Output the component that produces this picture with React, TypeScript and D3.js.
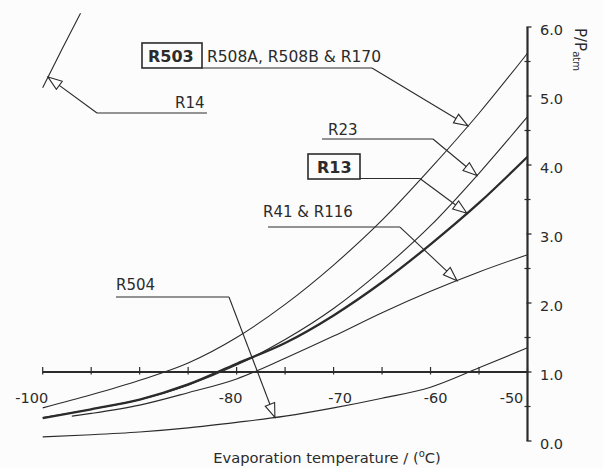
import React from 'react';
import * as d3 from 'd3';

// ---- data ----
const TEMPS = [-100, -95, -90, -85, -80, -75, -70, -65, -60, -55, -50];
const R503_VALUES = [0.48, 0.67, 0.88, 1.13, 1.5, 1.98, 2.55, 3.2, 3.95, 4.75, 5.62];
const R23_VALUES = [0.34, 0.46, 0.6, 0.81, 1.1, 1.47, 1.92, 2.48, 3.12, 3.88, 4.7];
const R13_VALUES = [0.33, 0.46, 0.6, 0.82, 1.12, 1.42, 1.82, 2.3, 2.85, 3.45, 4.12];
const R41_TEMPS = [-97, -95, -90, -85, -80, -75, -70, -65, -60, -55, -50];
const R41_VALUES = [0.36, 0.4, 0.52, 0.7, 0.9, 1.2, 1.52, 1.86, 2.17, 2.45, 2.7];
const R504_VALUES = [0.06, 0.09, 0.13, 0.19, 0.27, 0.36, 0.48, 0.62, 0.78, 1.06, 1.35];
const R14_TEMPS = [-100, -98, -96.1];
const R14_VALUES = [5.12, 5.68, 6.2];

const X_TICKS = [-100, -95, -90, -85, -80, -75, -70, -65, -60, -55, -50];
const X_TICK_LABELS = [-100, -80, -70, -60, -50];
const Y_MAJOR = [0, 1, 2, 3, 4, 5, 6];
const Y_MINOR = [0.5, 1.5, 2.5, 3.5, 4.5, 5.5];

type Series = { key: string; temps: number[]; values: number[]; bold?: boolean };
const SERIES: Series[] = [
  { key: 'R503', temps: TEMPS, values: R503_VALUES },
  { key: 'R23', temps: TEMPS, values: R23_VALUES },
  { key: 'R13', temps: TEMPS, values: R13_VALUES, bold: true },
  { key: 'R41', temps: R41_TEMPS, values: R41_VALUES },
  { key: 'R504', temps: TEMPS, values: R504_VALUES },
  { key: 'R14', temps: R14_TEMPS, values: R14_VALUES },
];

// annotation anchors in data units (temperature, pressure ratio)
const ANNOTATIONS = [
  { series: 'R503', boxed: 'R503', text: 'R508A, R508B & R170', textT: -89.14, baseV: 5.493, lineV: 5.406, lineFromT: -83.57, elbowT: -66.04, tipT: -56.14 },
  { series: 'R23', boxed: '', text: 'R23', textT: -70.58, baseV: 4.435, lineV: 4.377, lineFromT: -71.2, elbowT: -59.75, tipT: -55.21 },
  { series: 'R13', boxed: 'R13', text: '', textT: -71.71, baseV: 3.884, lineV: 3.804, lineFromT: -67.28, elbowT: -61.1, tipT: -56.25 },
  { series: 'R41', boxed: '', text: 'R41 & R116', textT: -77.28, baseV: 3.246, lineV: 3.101, lineFromT: -76.76, elbowT: -63.15, tipT: -57.27 },
  { series: 'R504', boxed: '', text: 'R504', textT: -92.44, baseV: 2.188, lineV: 2.087, lineFromT: -92.44, elbowT: -80.79, tipT: -76.05 },
  { series: 'R14', boxed: '', text: 'R14', textT: -86.36, baseV: 4.826, lineV: 4.754, lineFromT: -83.06, elbowT: -94.4, tipT: -99.45 },
];

const X_LABEL_DX: Record<number, number> = { [-100]: -11, [-80]: -6, [-70]: 6.5, [-60]: 5, [-50]: -16 };

const W = 603;
const H = 468;
const INK = '#2b2b2b';
const FONT = '"DejaVu Sans", Verdana, sans-serif';

export default function App() {
  const x = d3.scaleLinear().domain([-100, -50]).range([42.7, 527.5]);
  const y = d3.scaleLinear().domain([0, 6]).range([441, 27]);

  const line = d3
    .line<[number, number]>()
    .x((d) => x(d[0]))
    .y((d) => y(d[1]))
    .curve(d3.curveMonotoneX);

  const seriesByKey: Record<string, Series> = {};
  SERIES.forEach((s) => (seriesByKey[s.key] = s));

  const arrowHead = (fx: number, fy: number, tx: number, ty: number) => {
    const dx = tx - fx;
    const dy = ty - fy;
    const len = Math.hypot(dx, dy);
    const ux = dx / len;
    const uy = dy / len;
    const L = 14;
    const Wd = 5;
    const bx = tx - L * ux;
    const by = ty - L * uy;
    const nx = -uy;
    const ny = ux;
    return `${tx},${ty} ${bx + Wd * nx},${by + Wd * ny} ${bx - Wd * nx},${by - Wd * ny}`;
  };

  const axisY = y(1);
  const axisX = x(-50);

  return (
    <svg
      width={W}
      height={H}
      style={{ position: 'absolute', left: 0, top: 0, background: '#fcfcfc' }}
      fontFamily={FONT}
    >
      <rect x={0} y={0} width={W} height={H} fill="#fcfcfc" />

      {/* curves */}
      {SERIES.map((s) => (
        <path
          key={s.key}
          d={line(s.temps.map((t, i) => [t, s.values[i]] as [number, number])) || ''}
          fill="none"
          stroke={INK}
          strokeWidth={s.bold ? 2.3 : 1.1}
        />
      ))}

      {/* x axis along P/Patm = 1 */}
      <line x1={x(-100)} x2={axisX} y1={axisY} y2={axisY} stroke={INK} strokeWidth={2.2} />
      {X_TICKS.map((t) => (
        <line key={t} x1={x(t)} x2={x(t)} y1={axisY - 5} y2={axisY + 2.5} stroke={INK} strokeWidth={1.2} />
      ))}
      {X_TICK_LABELS.map((t) => (
        <text key={t} x={x(t) + (X_LABEL_DX[t] || 0)} y={403} textAnchor="middle" fontSize={14.5} fill={INK}>
          {t}
        </text>
      ))}

      {/* y axis on the right */}
      <line x1={axisX} x2={axisX} y1={y(6)} y2={y(0)} stroke={INK} strokeWidth={2.2} />
      {Y_MAJOR.map((v) => (
        <g key={v}>
          <line x1={axisX - 1} x2={axisX + 4} y1={y(v)} y2={y(v)} stroke={INK} strokeWidth={1.3} />
          <text x={540} y={y(v) + 8} fontSize={14.5} fill={INK}>
            {v.toFixed(1)}
          </text>
        </g>
      ))}
      {Y_MINOR.map((v) => (
        <line key={v} x1={axisX - 3} x2={axisX + 3} y1={y(v)} y2={y(v)} stroke={INK} strokeWidth={1.2} />
      ))}
      <text transform="translate(575,28) rotate(90)" fontSize={15} fill={INK}>
        P/P
        <tspan fontSize={10} dy={2}>
          atm
        </tspan>
      </text>

      {/* x title */}
      <text x={327} y={463} textAnchor="middle" fontSize={14.7} fill={INK}>
        Evaporation temperature / (
        <tspan fontSize={10} dy={-6}>
          o
        </tspan>
        <tspan dy={6}>C)</tspan>
      </text>

      {/* annotations */}
      {ANNOTATIONS.map((a) => {
        const s = seriesByKey[a.series];
        const interp = d3.scaleLinear().domain(s.temps).range(s.values);
        const tipX = x(a.tipT);
        const tipY = y(interp(a.tipT));
        const ex = x(a.elbowT);
        const ey = y(a.lineV);
        const tx = x(a.textT);
        const by = y(a.baseV);
        const boxW = a.boxed === 'R503' ? 60 : 52;
        const boxLeft = tx - (a.boxed === 'R503' ? 6 : 9);
        const textAfterBox = boxLeft + boxW + 5;
        return (
          <g key={a.series}>
            <line x1={x(a.lineFromT)} x2={ex} y1={ey} y2={ey} stroke={INK} strokeWidth={1.1} />
            <line x1={ex} y1={ey} x2={tipX} y2={tipY} stroke={INK} strokeWidth={1.1} />
            <polygon points={arrowHead(ex, ey, tipX, tipY)} fill="#fcfcfc" stroke={INK} strokeWidth={1.1} />
            {a.boxed ? (
              <>
                <rect x={boxLeft} y={by - 19} width={boxW} height={25} fill="none" stroke={INK} strokeWidth={1.6} />
                <text x={tx} y={by} fontSize={16} fontWeight="bold" fill={INK}>
                  {a.boxed}
                </text>
                {a.text ? (
                  <text x={textAfterBox} y={by} fontSize={15.5} fill={INK}>
                    {a.text}
                  </text>
                ) : null}
              </>
            ) : (
              <text x={tx} y={by} fontSize={15} fill={INK}>
                {a.text}
              </text>
            )}
          </g>
        );
      })}
    </svg>
  );
}
